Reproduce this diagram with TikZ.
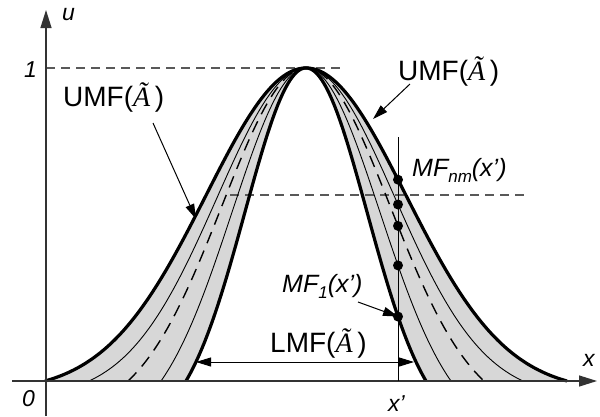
\documentclass[tikz,border=0pt]{standalone}
\usepackage{fontspec}
\setmainfont{Liberation Sans}
\newfontfamily\tms{Liberation Serif}
\usetikzlibrary{arrows.meta}
\newcommand{\tA}{{\tms\itshape Ã}}
\newcommand{\sbs}[1]{\raisebox{-6pt}{\fontsize{17}{17}\selectfont #1}}
\begin{document}
\begin{tikzpicture}[x=1pt,y=-1pt,
 declare function={
  gs(\xa,\sa)=exp(-0.5*((\xa-306)/\sa)*((\xa-306)/\sa));
  mfu(\xa,\sa,\da)=(gs(\xa,\sa)-gs(306+\da,\sa))/(1-gs(306+\da,\sa));
  py(\xa,\sa,\da)=381-313*mfu(\xa,\sa,\da);
 },
 thickcurve/.style={line width=3.2pt,line join=round},
 thincurve/.style={line width=0.9pt},
 dashcurve/.style={line width=1.4pt,dash pattern=on 12pt off 8pt},
 guide/.style={line width=1.4pt,draw=black!65,dash pattern=on 9pt off 6pt},
 axis/.style={line width=1.3pt,draw=black!80,-{Triangle[length=18pt,width=11pt]}},
 arr/.style={line width=1pt,-{Triangle[length=15pt,width=9pt]}},
 darr/.style={line width=1pt,{Triangle[length=15pt,width=9pt]}-{Triangle[length=15pt,width=9pt]}},
 dot/.style={circle,fill=black,inner sep=0pt,minimum size=10pt},
 lab/.style={anchor=base west,inner sep=0pt,font=\fontsize{28}{32}\selectfont},
 mflab/.style={anchor=base west,inner sep=0pt,font=\fontsize{25}{30}\selectfont\itshape},
 axlab/.style={anchor=base west,inner sep=0pt,font=\fontsize{23}{28}\selectfont\itshape},
]
\useasboundingbox (0,0) rectangle (600,416);
\definecolor{band}{RGB}{215,215,215}
% band
\fill[band] plot[domain=45:567,samples=220] (\x,{py(\x,100,261)}) -- cycle;
\fill[white] plot[domain=186:426,samples=160] (\x,{py(\x,61,120)}) -- cycle;
% guides
\coordinate (g1a) at (46,68); \coordinate (g1b) at (342,68);
\coordinate (g2a) at (230,195); \coordinate (g2b) at (528,195);
\draw[guide] (g1a) -- (g1b);
\draw[guide] (g2a) -- (g2b);
% inner curves
\draw[thincurve] plot[domain=89:523,samples=200] (\x,{py(\x,89,217)});
\draw[dashcurve] plot[domain=128:484,samples=200] (\x,{py(\x,84,178)});
\draw[thincurve] plot[domain=161:451,samples=200] (\x,{py(\x,74,145)});
% outer curves
\draw[thickcurve] plot[domain=45:567,samples=220] (\x,{py(\x,100,261)});
\draw[thickcurve] plot[domain=186:426,samples=160] (\x,{py(\x,61,120)});
% axes
\coordinate (xa0) at (12,381); \coordinate (xa1) at (597,381);
\coordinate (ya0) at (46,416); \coordinate (ya1) at (46,10);
\draw[axis] (xa0) -- (xa1);
\draw[axis] (ya0) -- (ya1);
% x' vertical
\coordinate (v0) at (398,137); \coordinate (v1) at (398,381);
\draw[line width=1pt] (v0) -- (v1);
% dots
\node[dot] (p1) at (398,{py(398,100,261)}) {};
\node[dot] (p2) at (398,{py(398,89,217)}) {};
\node[dot] (p3) at (398,{py(398,84,178)}) {};
\node[dot] (p4) at (398,{py(398,74,145)}) {};
\node[dot] (p5) at (398,{py(398,61,120)}) {};
% labels
\node[axlab] (lu) at (62,20) {u};
\node[axlab] (l1) at (24,77) {1};
\node[axlab] (l0) at (22,406) {0};
\node[axlab] (lx) at (583,366) {x};
\node[axlab] (lxp) at (388,411) {x’};
\node[lab] (umfL) at (63,106) {UMF(\tA\,)};
\node[lab] (umfR) at (398,80) {UMF(\tA\,)};
\node[lab] (lmf) at (270,352) {LMF(\tA\,)};
\node[mflab] (mfnm) at (412,176) {MF\sbs{nm}(x’)};
\node[mflab] (mf1) at (282,292) {MF\sbs{1}(x’)};
% arrows
\coordinate (a1s) at (153,123); \coordinate (a1e) at (196,219);
\coordinate (a2s) at (410,84); \coordinate (a2e) at (373,119);
\coordinate (a3s) at (358,302);
\coordinate (dL) at (196,362); \coordinate (dR) at (414,362);
\draw[arr] (a1s) -- (a1e);
\draw[arr] (a2s) -- (a2e);
\draw[arr] (a3s) -- (p5.center);
\draw[darr] (dL) -- (dR);
\end{tikzpicture}
\end{document}
